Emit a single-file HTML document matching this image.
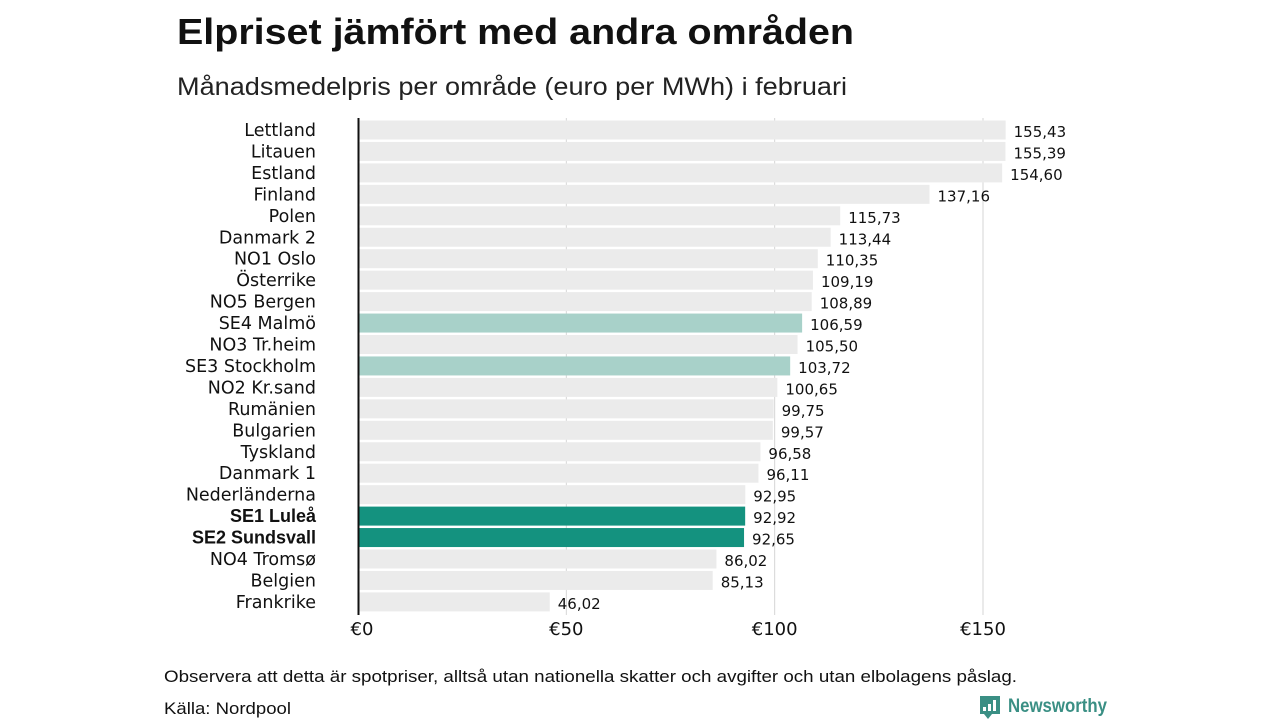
<!DOCTYPE html>
<html><head><meta charset="utf-8"><style>
body{margin:0;background:#fff;width:1280px;height:720px;overflow:hidden;font-family:"Liberation Sans",sans-serif}
</style></head><body>
<svg id="chart" width="1280" height="720" xmlns="http://www.w3.org/2000/svg">
<text x="177" y="44" font-size="36" font-weight="bold" fill="#111" textLength="677" lengthAdjust="spacingAndGlyphs">Elpriset jämfört med andra områden</text>
<text x="177" y="95" font-size="25" fill="#222" textLength="670" lengthAdjust="spacingAndGlyphs">Månadsmedelpris per område (euro per MWh) i februari</text>
<g id="grid"></g><g id="bars"></g>
<line x1="358.5" y1="118" x2="358.5" y2="615" stroke="#111" stroke-width="2"/>
<text x="164" y="682" font-size="17" fill="#111" textLength="853" lengthAdjust="spacingAndGlyphs">Observera att detta är spotpriser, alltså utan nationella skatter och avgifter och utan elbolagens påslag.</text>
<text x="164" y="714" font-size="17" fill="#111" textLength="127" lengthAdjust="spacingAndGlyphs">Källa: Nordpool</text>
<g>
<path d="M980 696h20v18h-8l-4 5l-4-5h-4z" fill="#3a8f84"/>
<rect x="983" y="707" width="3" height="4" fill="#fff"/><rect x="988" y="704" width="3" height="7" fill="#fff"/><rect x="993" y="700" width="3" height="11" fill="#fff"/>
<text x="1008" y="712" font-size="19" font-weight="bold" fill="#3a8f84" textLength="99" lengthAdjust="spacingAndGlyphs">Newsworthy</text>
</g>
</svg>
<script>
const categories=["Lettland","Litauen","Estland","Finland","Polen","Danmark 2","NO1 Oslo","Österrike","NO5 Bergen","SE4 Malmö","NO3 Tr.heim","SE3 Stockholm","NO2 Kr.sand","Rumänien","Bulgarien","Tyskland","Danmark 1","Nederländerna","SE1 Luleå","SE2 Sundsvall","NO4 Tromsø","Belgien","Frankrike"];
const values=[155.43,155.39,154.60,137.16,115.73,113.44,110.35,109.19,108.89,106.59,105.50,103.72,100.65,99.75,99.57,96.58,96.11,92.95,92.92,92.65,86.02,85.13,46.02];
const highlight=["none","none","none","none","none","none","none","none","none","light","none","light","none","none","none","none","none","none","dark","dark","none","none","none"];
const ticks=[0,50,100,150];
const tickLabels=["€0","€50","€100","€150"];
const NS="http://www.w3.org/2000/svg";
const x=v=>358+v*625/150;
const y=i=>130+i*21.45;
function mk(t,a,p){const e=document.createElementNS(NS,t);for(const k in a)e.setAttribute(k,a[k]);p.appendChild(e);return e;}
const grid=document.getElementById('grid'),bars=document.getElementById('bars');
ticks.forEach((t,i)=>{
 if(t>0){const l=mk('line',{x1:x(t),x2:x(t),y1:118,y2:615,stroke:'#d6d6d6','stroke-width':1},grid);
 
 }
 const tx=mk('text',{x:x(t)+(t==0?4:0),y:635,'font-size':18,'text-anchor':'middle',fill:'#111','font-family':'DejaVu Sans'},grid);
 tx.textContent=tickLabels[i];
 
 
});
categories.forEach((c,i)=>{
 const h=highlight[i];
 const fill=h=='dark'?'#14927f':h=='light'?'#a8d1c9':'#ebebeb';
 const r=mk('rect',{x:359,y:y(i)-9.5,width:x(values[i])-359,height:19,fill:fill},bars);
 
 
 const lb=mk('text',{x:316,y:y(i)+6,'font-size':h=='dark'?18:17.5,'text-anchor':'end',fill:'#111','font-weight':h=='dark'?'bold':'normal','font-family':h=='dark'?'Liberation Sans':'DejaVu Sans'},bars);
 lb.textContent=c;
 
 
 const vl=mk('text',{x:x(values[i])+8,y:y(i)+7,'font-size':15,fill:'#111','font-family':'DejaVu Sans'},bars);
 vl.textContent=values[i].toFixed(2).replace('.',',');
 
 
});
</script>
</body></html>
